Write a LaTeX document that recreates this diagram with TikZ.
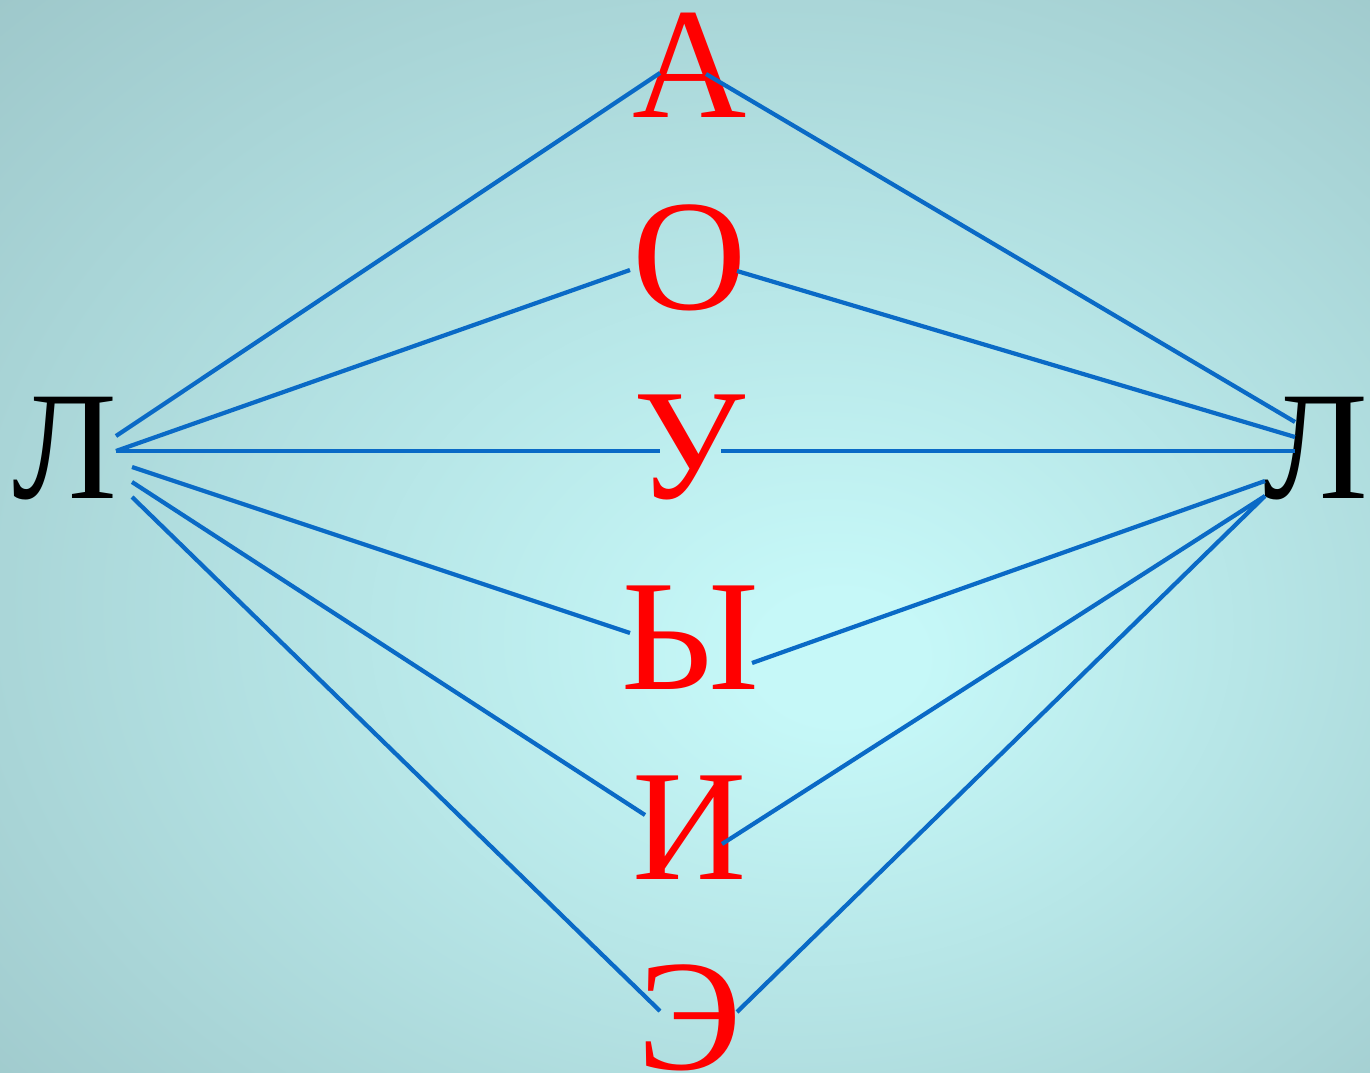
\documentclass[tikz,border=0pt]{standalone}
\usepackage{fontspec}
\setmainfont{Liberation Serif}
\definecolor{betupiros}{HTML}{FF0000}
\definecolor{vonalkek}{HTML}{0A6AC6}
\definecolor{fenykozep}{HTML}{C6F8F8}
\definecolor{fenyszel}{HTML}{8CB2B6}
\pgfdeclareradialshading{hatter}{\pgfpoint{6bp}{-6bp}}{color(0bp)=(fenykozep); color(3bp)=(fenykozep); color(54bp)=(fenyszel)}
\tikzset{
  maganhangzo/.style={text=betupiros,font=\fontsize{45}{45}\selectfont,inner sep=0pt,anchor=base,
                      text height=1.06cm,text depth=0.02cm},
  massalhangzo/.style={text=black,font=\fontsize{44}{44}\selectfont,inner sep=0pt,anchor=base},
  vonal/.style={draw=vonalkek,line width=1.2pt},
}
\begin{document}
\begin{tikzpicture}[x=0.01cm,y=-0.01cm]
  \shade[shading=hatter] (0,0) rectangle (1370,1073);
  \useasboundingbox (0,0) rectangle (1370,1073);
  % betuk
  \node[massalhangzo] (bl) at (65,498) {Л};
  \node[massalhangzo] (jl) at (1316,498) {Л};
  \node[maganhangzo] (a) at (690,118) {А};
  \node[maganhangzo] (o) at (690,309) {О};
  \node[maganhangzo] (u) at (690,498) {У};
  \node[maganhangzo] (y) at (690,689) {Ы};
  \node[maganhangzo] (i) at (690,879) {И};
  \node[maganhangzo] (e) at (690,1069) {Э};
  % vonalvegek
  \coordinate (bl1) at (116,436);
  \coordinate (bl2) at (116,451);
  \coordinate (bl3) at (132,467);
  \coordinate (bl4) at (132,482);
  \coordinate (bl5) at (132,497);
  \coordinate (jl1) at (1295,422);
  \coordinate (jl2) at (1295,437);
  \coordinate (jl3) at (1295,451);
  \coordinate (jl4) at (1265,481);
  \coordinate (jl5) at (1265,496);
  \coordinate (a1) at (660,73);   \coordinate (a2) at (706,74);
  \coordinate (o1) at (630,270);  \coordinate (o2) at (737,271);
  \coordinate (u1) at (660,451);  \coordinate (u2) at (721,451);
  \coordinate (y1) at (630,633);  \coordinate (y2) at (752,663);
  \coordinate (i1) at (645,815);  \coordinate (i2) at (722,844);
  \coordinate (e1) at (660,1011); \coordinate (e2) at (737,1012);
  \foreach \p/\q in {bl1/a1,bl2/o1,bl2/u1,bl3/y1,bl4/i1,bl5/e1,
                     a2/jl1,o2/jl2,u2/jl3,y2/jl4,i2/jl5,e2/jl5}
    \draw[vonal] (\p) -- (\q);
\end{tikzpicture}
\end{document}
